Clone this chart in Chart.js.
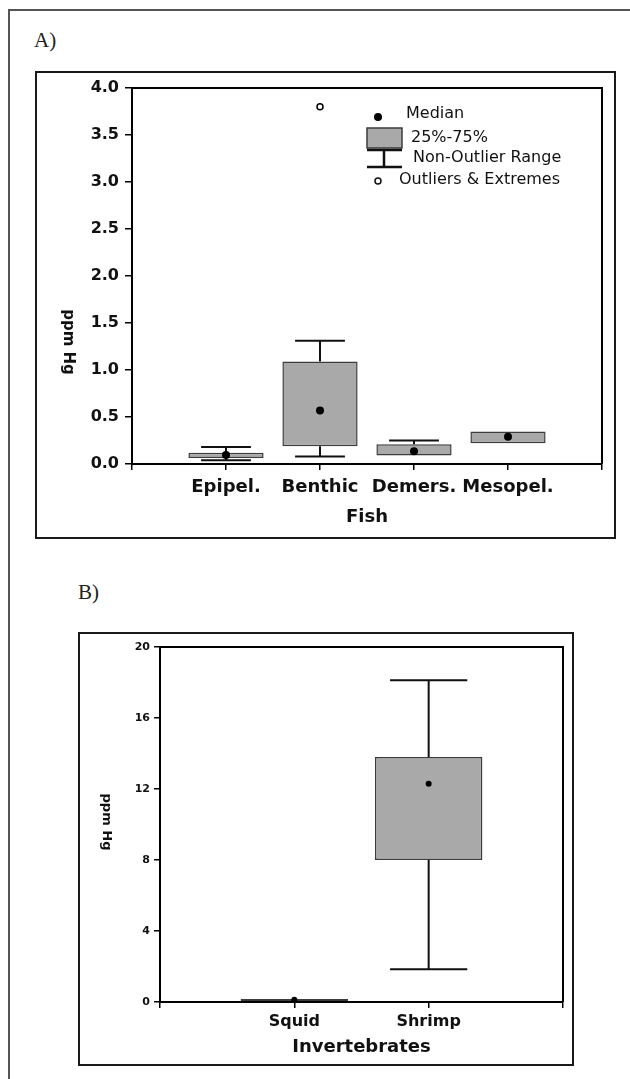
<!DOCTYPE html>
<html>
<head>
<meta charset="utf-8">
<script src="https://cdn.jsdelivr.net/npm/chart.js@4.4.1/dist/chart.umd.min.js"></script>
<style>
  body { margin: 0; background: #fff; width: 630px; height: 1079px; overflow: hidden; position: relative; }
  .frame { position: absolute; left: 8px; top: 9px; width: 700px; height: 1200px; border-left: 2px solid #555; border-top: 2px solid #555; }
  .box { position: absolute; box-sizing: border-box; border: 2px solid #1a1a1a; }
  .wrap { position: absolute; }
  .tag { position: absolute; font-family: "Liberation Serif", serif; font-size: 21px; color: #222; }
</style>
</head>
<body>
<div class="frame"></div>
<div class="tag" style="left:34px; top:28px;">A)</div>
<div class="box" style="left:35px; top:71px; width:581px; height:468px;"></div>
<div class="wrap" style="left:36px; top:72px; width:579px; height:466px;"><canvas id="chartA"></canvas></div>

<div class="tag" style="left:78px; top:580px;">B)</div>
<div class="box" style="left:78px; top:632px; width:496px; height:434px;"></div>
<div class="wrap" style="left:79px; top:633px; width:494px; height:432px;"><canvas id="chartB"></canvas></div>

<script>
// A) fish
const fishCats = ["Epipel.", "Benthic", "Demers.", "Mesopel."];
const fishMin = [0.04, 0.08, null, null];
const fishQ1 = [0.065, 0.19, 0.09, 0.22];
const fishMedian = [0.095, 0.57, 0.135, 0.29];
const fishQ3 = [0.12, 1.09, 0.21, 0.345];
const fishMax = [0.18, 1.31, 0.25, null];
const fishOutliers = [null, 3.8, null, null];
const fishTicks = ["0.0", "0.5", "1.0", "1.5", "2.0", "2.5", "3.0", "3.5", "4.0"];

// B) invertebrates
const invCats = ["Squid", "Shrimp"];
const invMin = [null, 1.84];
const invQ1 = [0.05, 8.0];
const invMedian = [0.13, 12.3];
const invQ3 = [0.17, 13.8];
const invMax = [null, 18.13];
const invTicks = ["0", "4", "8", "12", "16", "20"];

Chart.defaults.font.family = "'DejaVu Sans', sans-serif";
Chart.defaults.color = "#111";

// empty slot on each side of the categories
const pad = arr => [null, ...arr, null];

function whiskers(lows, q1s, q3s, highs, capFrac) {
    return {
        id: "whiskers",
        beforeDatasetsDraw(chart) {
            const { ctx, scales: { x, y } } = chart;
            const half = (x.getPixelForValue(1) - x.getPixelForValue(0)) * capFrac / 2;
            ctx.save();
            ctx.strokeStyle = "#111";
            ctx.lineWidth = 2;
            lows.forEach((lo, i) => {
                const px = x.getPixelForValue(i + 1);
                [[lo, q1s[i]], [highs[i], q3s[i]]].forEach(([end, edge]) => {
                    if (end == null) return;
                    const ye = y.getPixelForValue(end);
                    ctx.beginPath();
                    ctx.moveTo(px, y.getPixelForValue(edge));
                    ctx.lineTo(px, ye);
                    ctx.moveTo(px - half, ye);
                    ctx.lineTo(px + half, ye);
                    ctx.stroke();
                });
            });
            ctx.restore();
        }
    };
}

function frame(yTitle, tx, ty, size) {
    return {
        id: "frame",
        afterDraw(chart) {
            const { ctx, chartArea: ca } = chart;
            ctx.save();
            ctx.strokeStyle = "#000";
            ctx.lineWidth = 2;
            ctx.beginPath();
            ctx.moveTo(ca.left, ca.top);
            ctx.lineTo(ca.right, ca.top);
            ctx.lineTo(ca.right, ca.bottom);
            ctx.stroke();
            // axis title reads top to bottom
            ctx.translate(tx, ty);
            ctx.rotate(Math.PI / 2);
            ctx.fillStyle = "#111";
            ctx.font = "bold " + size + "px 'DejaVu Sans'";
            ctx.textAlign = "center";
            ctx.textBaseline = "middle";
            ctx.fillText(yTitle, 0, 0);
            ctx.restore();
        }
    };
}

const boxLegend = {
    id: "boxLegend",
    afterDraw(chart) {
        const { ctx, chartArea: ca } = chart;
        const x0 = ca.left, y0 = ca.top;
        ctx.save();
        ctx.fillStyle = "#000";
        ctx.beginPath();
        ctx.arc(x0 + 246, y0 + 29, 4, 0, Math.PI * 2);
        ctx.fill();
        ctx.fillStyle = "#a9a9a9";
        ctx.fillRect(x0 + 235, y0 + 40, 35, 20);
        ctx.strokeStyle = "#3c3c3c";
        ctx.lineWidth = 1.5;
        ctx.strokeRect(x0 + 235, y0 + 40, 35, 20);
        ctx.strokeStyle = "#111";
        ctx.lineWidth = 2.5;
        ctx.beginPath();
        ctx.moveTo(x0 + 235, y0 + 62); ctx.lineTo(x0 + 270, y0 + 62);
        ctx.moveTo(x0 + 252, y0 + 62); ctx.lineTo(x0 + 252, y0 + 79);
        ctx.moveTo(x0 + 235, y0 + 79); ctx.lineTo(x0 + 270, y0 + 79);
        ctx.stroke();
        ctx.lineWidth = 1.5;
        ctx.beginPath();
        ctx.arc(x0 + 246, y0 + 93, 3, 0, Math.PI * 2);
        ctx.stroke();
        ctx.fillStyle = "#111";
        ctx.font = "16px 'DejaVu Sans'";
        ctx.textBaseline = "middle";
        ctx.fillText("Median", x0 + 274, y0 + 26);
        ctx.fillText("25%-75%", x0 + 279, y0 + 50);
        ctx.fillText("Non-Outlier Range", x0 + 281, y0 + 70);
        ctx.fillText("Outliers & Extremes", x0 + 267, y0 + 92);
        ctx.restore();
    }
};

function axes(o) {
    return {
        x: {
            offset: false,
            grid: { offset: false, drawOnChartArea: false, color: "#000", lineWidth: 1.5, tickLength: 6 },
            border: { color: "#000", width: 2 },
            ticks: { font: { size: o.xSize, weight: "bold" }, padding: o.xPad, maxRotation: 0, autoSkip: false },
            title: { display: true, text: o.xTitle, font: { size: 18, weight: "bold" }, padding: { top: 0, bottom: o.titlePad } },
            afterFit: s => { s.height = o.xHeight; }
        },
        y: {
            min: 0,
            max: o.yMax,
            grid: { drawOnChartArea: false, color: "#000", lineWidth: 1.5, tickLength: o.yTick },
            border: { color: "#000", width: 2 },
            ticks: {
                stepSize: o.yStep,
                font: { size: o.ySize, weight: "bold" },
                padding: o.yPad,
                callback: (v, i) => o.yLabels[i]
            },
            afterFit: s => { s.width = o.yWidth; }
        }
    };
}

function boxChart(id, cats, mins, q1s, meds, q3s, maxs, outs, o, extra) {
    const datasets = [
        {
            type: "line", data: pad(meds), showLine: false, order: 0,
            pointRadius: o.dot, pointBackgroundColor: "#000", pointBorderColor: "#000", pointBorderWidth: 0
        },
        {
            type: "bar", data: pad(q1s.map((q, i) => [q, q3s[i]])), order: 2,
            backgroundColor: "#a9a9a9", borderColor: "#3c3c3c", borderWidth: 1.5, borderSkipped: false,
            barPercentage: 0.8, categoryPercentage: 1
        }
    ];
    if (outs) {
        datasets.push({
            type: "line", data: pad(outs), showLine: false, order: 1,
            pointRadius: 3, pointBackgroundColor: "#fff", pointBorderColor: "#000", pointBorderWidth: 1.5
        });
    }
    return new Chart(document.getElementById(id), {
        type: "bar",
        data: { labels: ["", ...cats, ""], datasets },
        options: {
            responsive: true,
            maintainAspectRatio: false,
            devicePixelRatio: 1,
            animation: false,
            layout: { padding: o.padding },
            plugins: { legend: { display: false }, tooltip: { enabled: false } },
            scales: axes(o)
        },
        plugins: [whiskers(mins, q1s, q3s, maxs, o.cap), frame("ppm Hg", o.tx, o.ty, o.tSize), ...extra]
    });
}

boxChart("chartA", fishCats, fishMin, fishQ1, fishMedian, fishQ3, fishMax, fishOutliers, {
    padding: { top: 16, right: 13, left: 0, bottom: 0 },
    xHeight: 74, yWidth: 96, xSize: 18, xPad: 7, ySize: 16, yPad: 6, yTick: 7,
    yMax: 4, yStep: 0.5, yLabels: fishTicks, xTitle: "Fish", titlePad: 10,
    cap: 0.53, dot: 4, tx: 32, ty: 270, tSize: 15
}, [boxLegend]);

boxChart("chartB", invCats, invMin, invQ1, invMedian, invQ3, invMax, null, {
    padding: { top: 14, right: 10, left: 0, bottom: 0 },
    xHeight: 63, yWidth: 81, xSize: 16, xPad: 4, ySize: 11, yPad: 4, yTick: 6,
    yMax: 20, yStep: 4, yLabels: invTicks, xTitle: "Invertebrates", titlePad: 7,
    cap: 0.575, dot: 3, tx: 27, ty: 189, tSize: 13
}, []);
</script>
</body>
</html>
